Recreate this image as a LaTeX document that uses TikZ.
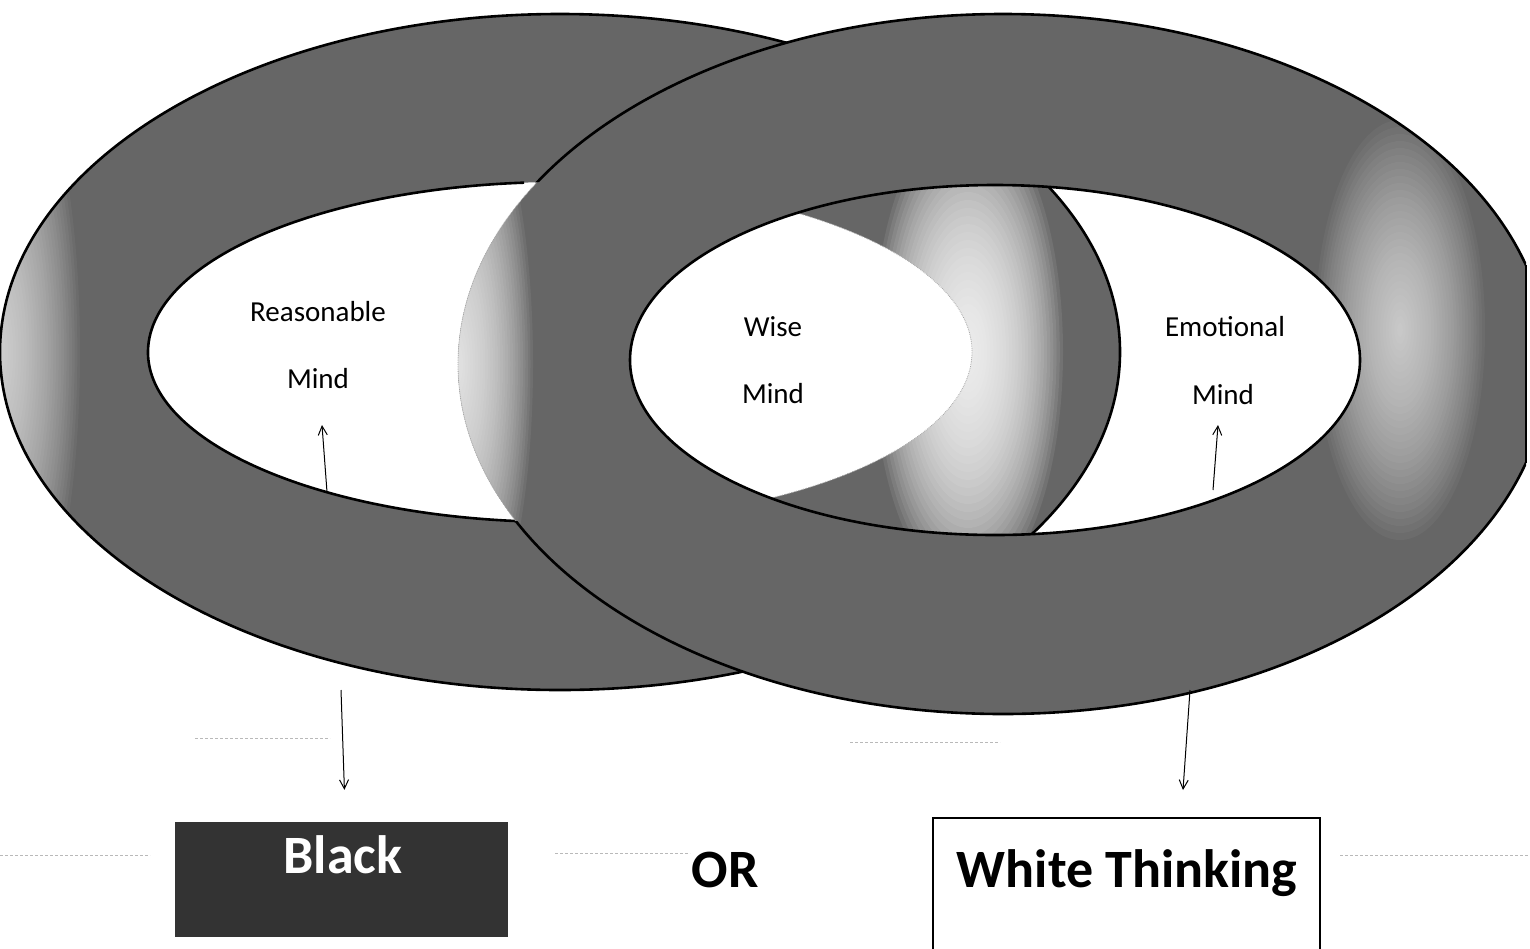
\documentclass[tikz,border=0pt]{standalone}
\usepackage{fontspec}
\setmainfont{Carlito}
\usetikzlibrary{arrows.meta}

\colorlet{bandgray}{black!60}

\tikzset{
  band/.style={fill=bandgray},
  rim/.style={line width=2.6pt},
  faintrim/.style={gray!70, densely dotted, line width=0.8pt},
  glowlayer/.style={fill=white, fill opacity=#1},
  mindlabel/.style={font=\fontsize{29}{34}\selectfont, anchor=base},
  biglabel/.style={font=\fontsize{54}{62}\selectfont\bfseries, anchor=base},
  pointer/.style={line width=1pt, -{Straight Barb[length=9pt,width=9pt]}},
  scanline/.style={gray!55, densely dashed, line width=0.8pt},
}

% soft light spot: centre x, centre y, x reach, y reach, strength
\newcommand{\glowspot}[5]{%
  \foreach \k in {1,...,30}{%
    \pgfmathsetmacro\gx{#3*\k/30}%
    \pgfmathsetmacro\gy{#4*\k/30}%
    \fill[glowlayer=#5] (#1,#2) ellipse [x radius=\gx, y radius=\gy];
  }}

\begin{document}
\begin{tikzpicture}[x=1pt,y=-1pt]
  \clip (0,0) rectangle (1530,948);
  \fill[white] (0,0) rectangle (1530,948);
  \coordinate (lc) at (560,352);
  \coordinate (rc) at (1003,364);
  \coordinate (rh) at (995,360);

  % left ring (reasonable)
  \fill[band] (lc) ellipse [x radius=560, y radius=338];
  \begin{scope}
    \clip (lc) ellipse [x radius=560, y radius=338];
    \glowspot{0}{352}{80}{320}{0.045}
    \glowspot{968}{352}{95}{240}{0.08}
  \end{scope}
  \fill[white] (lc) ellipse [x radius=412, y radius=170];
  \draw[rim] (lc) ellipse [x radius=560, y radius=338];
  \draw[rim] (lc) ++(95:412 and 170) arc [start angle=95, end angle=265, x radius=412, y radius=170];
  \draw[faintrim] (lc) ++(-85:412 and 170) arc [start angle=-85, end angle=85, x radius=412, y radius=170];

  % right ring (emotional), cut by the page edge
  \begin{scope}
    \clip (0,0) rectangle (1526,948);
    \begin{scope}[even odd rule]
      \fill[band] (rc) ellipse [x radius=545, y radius=350] (rh) ellipse [x radius=365, y radius=175];
      \clip (rc) ellipse [x radius=545, y radius=350] (rh) ellipse [x radius=365, y radius=175];
      \glowspot{458}{364}{75}{290}{0.06}
      \glowspot{1400}{330}{85}{210}{0.04}
    \end{scope}
    \draw[faintrim] (rc) ellipse [x radius=545, y radius=350];
    \begin{scope}[even odd rule]
      \clip (0,0) rectangle (1530,948) (lc) ellipse [x radius=412, y radius=170];
      \draw[rim] (rc) ellipse [x radius=545, y radius=350];
    \end{scope}
  \end{scope}
  \draw[rim] (1526,265) -- (1526,463);
  \draw[rim] (rh) ellipse [x radius=365, y radius=175];

  % labels
  \node[mindlabel] (reasonable) at (318,321) {Reasonable};
  \node[mindlabel] (rmind) at (318,388) {Mind};
  \node[mindlabel] (wise) at (773,336) {Wise};
  \node[mindlabel] (wmind) at (773,403) {Mind};
  \node[mindlabel] (emotional) at (1225,336) {Emotional};
  \node[mindlabel] (emind) at (1223,404) {Mind};

  % boxes
  \node[fill=black!80, minimum width=333pt, minimum height=115pt, inner sep=0pt] (blackbox) at (341.5,879.5) {};
  \node[biglabel, text=white] (blacktext) at (343,873) {Black};
  \node[biglabel] (ortext) at (725,887) {OR};
  \node[draw, line width=1.6pt, minimum width=387pt, minimum height=200pt, inner sep=0pt] (whitebox) at (1126.5,918) {};
  \node[biglabel] (whitetext) at (1127,887) {White Thinking};

  % pointers
  \coordinate (rbase) at (327,492);
  \coordinate (rtip) at (322,425);
  \coordinate (ebase) at (1213,490);
  \coordinate (etip) at (1218,425);
  \coordinate (lfoot) at (341,690);
  \coordinate (efoot) at (1190,690);
  \coordinate (etoe) at (1183,790);
  \draw[pointer] (rbase) -- (rtip);
  \draw[pointer] (ebase) -- (etip);
  \draw[pointer, shorten >=32pt] (lfoot) -- ([xshift=4pt]blackbox.north);
  \draw[pointer] (efoot) -- (etoe);

  % faint ruling from the page
  \draw[scanline] (0,855) -- (150,855);
  \draw[scanline] (555,853) -- (690,853);
  \draw[scanline] (1340,855) -- (1530,855);
  \draw[scanline] (195,738) -- (330,738);
  \draw[scanline] (850,742) -- (1000,742);
\end{tikzpicture}
\end{document}
